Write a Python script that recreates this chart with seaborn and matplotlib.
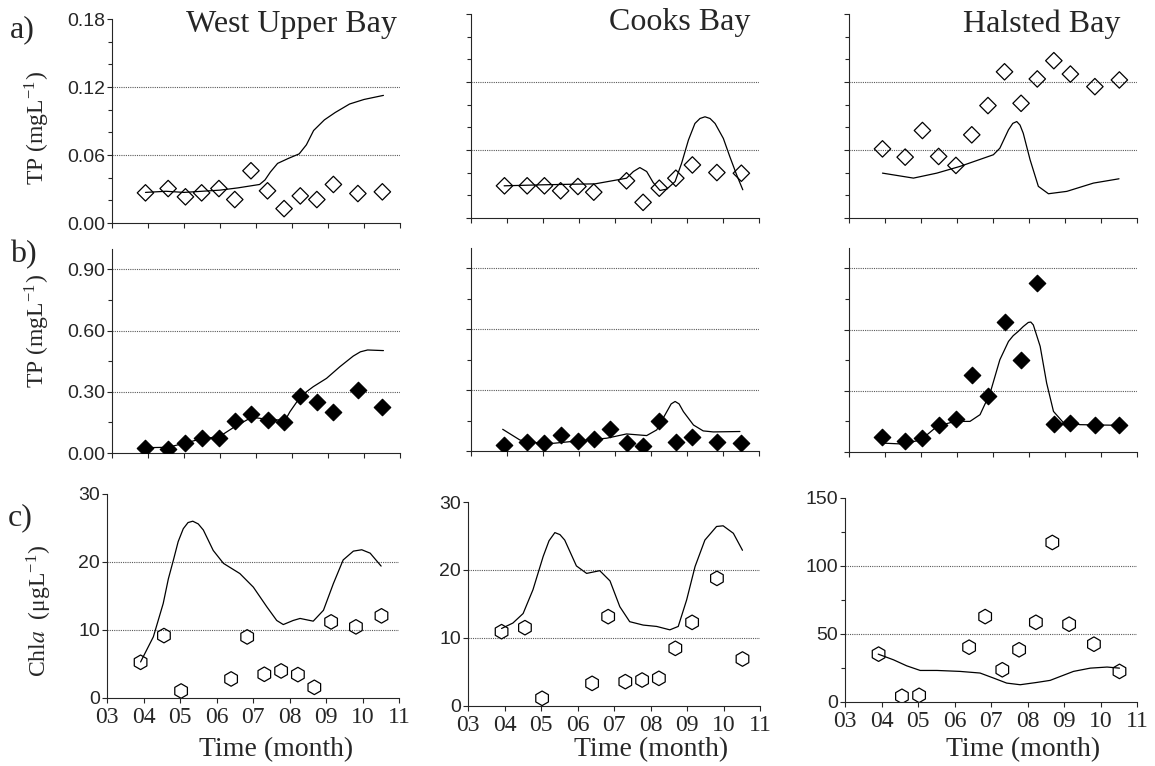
# Lake nutrient / chlorophyll panels, three bays, observed points vs model line
import numpy as np
import pandas as pd
import seaborn as sns
import matplotlib.pyplot as plt
from matplotlib.ticker import MultipleLocator

# ---------------- data ----------------
bays = ['West Upper Bay', 'Cooks Bay', 'Halsted Bay']
month_ticks = [3, 4, 5, 6, 7, 8, 9, 10, 11]
month_labels = ['03', '04', '05', '06', '07', '08', '09', '10', '11']

# sampling dates (month as decimal)
month_tp = [3.93, 4.56, 5.04, 5.49, 5.97, 6.41, 6.86, 7.32, 7.78, 8.23, 8.69, 9.15, 9.83, 10.51]
month_tp_cooks = [3.93, 4.56, 5.04, 5.49, 5.97, 6.41, 7.32, 7.78, 8.23, 8.69, 9.15, 9.83, 10.51]
month_chla = [3.92, 4.56, 5.03, 6.40, 6.84, 7.31, 7.77, 8.23, 8.68, 9.14, 9.82, 10.52]

# row a) observed TP (open diamonds)
tp_west = [0.0266, 0.0304, 0.0231, 0.0266, 0.0304, 0.0207, 0.0461, 0.0284, 0.0127, 0.0239, 0.0207, 0.034, 0.026, 0.0275]
tp_cooks = [0.0284, 0.0284, 0.0284, 0.024, 0.0278, 0.0228, 0.0328, 0.0138, 0.0263, 0.0351, 0.0468, 0.0401, 0.0395]
tp_halsted = [0.061, 0.0537, 0.0772, 0.0543, 0.0464, 0.0734, 0.0992, 0.129, 0.1012, 0.1227, 0.1388, 0.127, 0.1159, 0.1218]

# row a) model lines
line_a_west_x = [3.93, 4.5, 5.0, 5.5, 6.0, 6.5, 6.9, 7.1, 7.25, 7.4, 7.6, 7.9, 8.2, 8.4, 8.6, 8.9, 9.2, 9.6, 10.0, 10.54]
line_a_west_y = [0.027, 0.028, 0.027, 0.028, 0.029, 0.031, 0.033, 0.034, 0.038, 0.045, 0.0526, 0.057, 0.061, 0.069, 0.0816, 0.091, 0.0975, 0.105, 0.109, 0.1126]
line_a_cooks_x = [3.92, 5.0, 6.0, 6.44, 7.32, 7.51, 7.69, 7.88, 8.06, 8.25, 8.44, 8.67, 8.85, 9.04, 9.22, 9.36, 9.5, 9.64, 9.78, 10.01, 10.19, 10.38, 10.55]
line_a_cooks_y = [0.0284, 0.0293, 0.0299, 0.0301, 0.0351, 0.041, 0.0445, 0.041, 0.0313, 0.0243, 0.0255, 0.0322, 0.0483, 0.0688, 0.0834, 0.0878, 0.0893, 0.0878, 0.0834, 0.0702, 0.0541, 0.038, 0.0249]
line_a_halsted_x = [3.93, 4.79, 5.44, 6.08, 7.01, 7.19, 7.43, 7.55, 7.66, 7.75, 7.84, 8.03, 8.26, 8.54, 9.05, 9.79, 10.5]
line_a_halsted_y = [0.0396, 0.0352, 0.0396, 0.0455, 0.0558, 0.0616, 0.0778, 0.0835, 0.0851, 0.082, 0.0748, 0.0514, 0.0279, 0.0214, 0.0235, 0.0308, 0.0346]

# row b) observed TP (filled diamonds)
tp2_west = [0.026, 0.021, 0.051, 0.075, 0.074, 0.157, 0.189, 0.164, 0.152, 0.280, 0.248, 0.202, 0.311, 0.226]
tp2_cooks = [0.030, 0.043, 0.038, 0.079, 0.049, 0.058, 0.109, 0.038, 0.025, 0.150, 0.043, 0.071, 0.043, 0.038]
tp2_halsted = [0.073, 0.052, 0.069, 0.134, 0.163, 0.378, 0.276, 0.635, 0.452, 0.827, 0.137, 0.142, 0.134, 0.131]

# row b) model lines
line_b_west_x = [3.92, 4.56, 5.06, 5.49, 5.98, 6.42, 6.88, 7.34, 7.81, 7.94, 8.25, 8.59, 8.96, 9.33, 9.7, 9.9, 10.1, 10.54]
line_b_west_y = [0.026, 0.028, 0.05, 0.07, 0.08, 0.13, 0.175, 0.165, 0.16, 0.2016, 0.280, 0.325, 0.366, 0.423, 0.475, 0.496, 0.505, 0.502]
line_b_cooks_x = [3.88, 4.36, 4.82, 5.29, 5.75, 6.21, 6.77, 7.32, 7.88, 8.16, 8.3, 8.44, 8.56, 8.67, 8.78, 8.9, 9.18, 9.45, 9.73, 10.47]
line_b_cooks_y = [0.107, 0.054, 0.041, 0.038, 0.046, 0.054, 0.063, 0.084, 0.076, 0.104, 0.150, 0.194, 0.232, 0.244, 0.232, 0.194, 0.128, 0.099, 0.094, 0.096]
line_b_halsted_x = [3.88, 4.51, 5.0, 5.45, 5.94, 6.36, 6.64, 6.92, 7.19, 7.43, 7.56, 7.70, 7.84, 7.98, 8.05, 8.12, 8.31, 8.49, 8.68, 8.95, 9.42, 10.46]
line_b_halsted_y = [0.044, 0.039, 0.06, 0.126, 0.15, 0.15, 0.183, 0.289, 0.452, 0.542, 0.57, 0.591, 0.615, 0.635, 0.637, 0.623, 0.518, 0.338, 0.199, 0.145, 0.134, 0.131]

# row c) observed Chla (open hexagons)
chla_west = [5.25, 9.18, 1.03, 2.8, 8.98, 3.49, 3.98, 3.44, 1.57, 11.19, 10.46, 12.08]
chla_cooks = [10.93, 11.52, 1.13, 3.33, 13.14, 3.58, 3.82, 4.07, 8.48, 12.3, 18.77, 6.91]
chla_halsted = [35.2, 4.2, 4.9, 40.3, 62.8, 23.7, 38.4, 58.6, 117.3, 57.2, 42.5, 22.5]

# row c) model lines
line_c_west_x = [3.92, 4.27, 4.54, 4.68, 4.82, 4.95, 5.09, 5.22, 5.35, 5.5, 5.64, 5.91, 6.19, 6.64, 7.01, 7.38, 7.65, 7.83, 8.10, 8.29, 8.65, 8.93, 9.2, 9.47, 9.75, 9.98, 10.21, 10.51]
line_c_west_y = [5.3, 9.0, 13.9, 17.5, 20.3, 23.0, 24.9, 25.8, 26.0, 25.6, 24.7, 21.7, 19.8, 18.3, 16.3, 13.4, 11.4, 10.8, 11.4, 11.7, 11.3, 12.9, 16.8, 20.3, 21.6, 21.8, 21.3, 19.4]
line_c_cooks_x = [3.92, 4.23, 4.51, 4.78, 5.06, 5.22, 5.38, 5.52, 5.65, 5.97, 6.25, 6.61, 6.89, 7.16, 7.43, 7.8, 8.17, 8.53, 8.76, 8.99, 9.22, 9.49, 9.81, 9.99, 10.27, 10.52]
line_c_cooks_y = [11.4, 12.2, 13.6, 17.1, 22.0, 24.3, 25.5, 25.2, 24.4, 20.6, 19.5, 19.9, 18.4, 14.6, 12.4, 11.9, 11.7, 11.2, 11.7, 15.6, 20.5, 24.4, 26.4, 26.5, 25.4, 22.9]
line_c_halsted_x = [3.91, 4.33, 4.69, 5.06, 5.52, 6.15, 6.70, 7.07, 7.43, 7.80, 8.26, 8.62, 8.90, 9.26, 9.72, 10.18, 10.52]
line_c_halsted_y = [35.2, 31.0, 26.6, 23.2, 23.2, 22.5, 21.3, 17.6, 13.9, 12.7, 14.4, 15.9, 18.8, 22.5, 24.9, 25.7, 24.9]

# axis scales per row
yticks_a = [0.0, 0.06, 0.12, 0.18]
ylabels_a = ['0.00', '0.06', '0.12', '0.18']
yticks_b = [0.0, 0.30, 0.60, 0.90]
ylabels_b = ['0.00', '0.30', '0.60', '0.90']
yticks_c = [0, 10, 20, 30]
yticks_c_halsted = [0, 50, 100, 150]
grid_a = [0.06, 0.12]
grid_b = [0.30, 0.60, 0.90]
grid_c = [10, 20]
grid_c_halsted = [50, 100]

# ---------------- style ----------------
sns.set_style('ticks')
plt.rcParams['font.family'] = ['Liberation Serif', 'DejaVu Serif']
plt.rcParams['mathtext.fontset'] = 'stix'
plt.rcParams['axes.linewidth'] = 0.8
plt.rcParams['xtick.major.width'] = 0.8
plt.rcParams['ytick.major.width'] = 0.8
plt.rcParams['ytick.minor.width'] = 0.8
plt.rcParams['xtick.major.size'] = 3.5
plt.rcParams['ytick.major.size'] = 3.5
plt.rcParams['ytick.minor.size'] = 3.0
plt.rcParams['xtick.direction'] = 'out'
plt.rcParams['ytick.direction'] = 'out'

W, H = 1155, 766
fig = plt.figure(figsize=(W / 100, H / 100), dpi=100)

# axes boxes in pixels: (left, right, top, bottom)
boxes = [
    [(112, 400, 19, 223), (471, 759, 14, 218), (849, 1137, 14, 218)],
    [(112, 400, 249, 453), (471, 759, 248, 451), (849, 1137, 248, 452)],
    [(107, 399, 494, 698), (468, 760, 502, 706), (845, 1137, 498, 702)],
]


def make_ax(box):
    x0, x1, y0, y1 = box
    return fig.add_axes([x0 / W, 1 - y1 / H, (x1 - x0) / W, (y1 - y0) / H])


def draw_panel(ax, px, py, lx, ly, marker, filled, size, grid):
    for g in grid:
        ax.axhline(g, color='0.35', lw=0.8, ls=(0, (1, 1)), zorder=1)
    sns.lineplot(x=lx, y=ly, ax=ax, color='black', lw=0.9, estimator=None, sort=False, zorder=2)
    sns.scatterplot(x=px, y=py, ax=ax, marker=marker, s=size, color='black',
                    edgecolor='black', linewidth=0.9, zorder=3)
    if not filled:
        ax.collections[-1].set_facecolor('none')
    ax.set_xlim(3, 11)
    ax.set_xticks(month_ticks)
    sns.despine(ax=ax)
    ax.set_xlabel('')
    ax.set_ylabel('')


panel_data = [
    [(month_tp, tp_west, line_a_west_x, line_a_west_y),
     (month_tp_cooks, tp_cooks, line_a_cooks_x, line_a_cooks_y),
     (month_tp, tp_halsted, line_a_halsted_x, line_a_halsted_y)],
    [(month_tp, tp2_west, line_b_west_x, line_b_west_y),
     (month_tp, tp2_cooks, line_b_cooks_x, line_b_cooks_y),
     (month_tp, tp2_halsted, line_b_halsted_x, line_b_halsted_y)],
    [(month_chla, chla_west, line_c_west_x, line_c_west_y),
     (month_chla, chla_cooks, line_c_cooks_x, line_c_cooks_y),
     (month_chla, chla_halsted, line_c_halsted_x, line_c_halsted_y)],
]

ylab_tp = 'TP (mgL$^{\\mathregular{-1}}$)'
ylab_chla = 'Chl$\\mathit{a}$  (μgL$^{\\mathregular{-1}}$)'

for r in range(3):
    for c in range(3):
        ax = make_ax(boxes[r][c])
        px, py, lx, ly = panel_data[r][c]
        if r == 0:
            draw_panel(ax, px, py, lx, ly, 'D', False, 70, grid_a)
            ax.set_ylim(0, 0.18)
            ax.set_yticks(yticks_a)
            ax.yaxis.set_minor_locator(MultipleLocator(0.02))
            ticklabels = ylabels_a
        elif r == 1:
            draw_panel(ax, px, py, lx, ly, 'D', True, 70, grid_b)
            ax.set_ylim(0, 1.0)
            ax.set_yticks(yticks_b)
            ax.yaxis.set_minor_locator(MultipleLocator(0.15))
            ticklabels = ylabels_b
        else:
            if c == 2:
                draw_panel(ax, px, py, lx, ly, 'h', False, 110, grid_c_halsted)
                ax.set_ylim(0, 150)
                ax.set_yticks(yticks_c_halsted)
                ax.yaxis.set_minor_locator(MultipleLocator(25))
                ticklabels = [str(v) for v in yticks_c_halsted]
            else:
                draw_panel(ax, px, py, lx, ly, 'h', False, 110, grid_c)
                ax.set_ylim(0, 30)
                ax.set_yticks(yticks_c)
                ticklabels = [str(v) for v in yticks_c]

        # y tick labels (sans) only on left column for rows a/b
        if r == 2 or c == 0:
            ax.set_yticklabels(ticklabels, fontsize=14, family=['Liberation Sans', 'DejaVu Sans'])
        else:
            ax.tick_params(axis='y', labelleft=False)
        ax.tick_params(axis='y', pad=1.5)

        # x tick labels (serif) only on bottom row
        if r == 2:
            ax.set_xticklabels(month_labels, fontsize=17)
            ax.tick_params(axis='x', pad=3)
            x0, x1, y0, y1 = boxes[r][c]
            lab_x = [276, 651, 1023][c]
            ax.set_xlabel('Time (month)', fontsize=20, va='center')
            ax.xaxis.set_label_coords((lab_x - x0) / (x1 - x0), (y1 - 750) / (y1 - y0))
        else:
            ax.tick_params(axis='x', labelbottom=False)

        # y axis titles on the left column
        if c == 0:
            x0, x1, y0, y1 = boxes[r][c]
            lab = [(37, 128), (37, 331), (39, 611)][r]
            ax.set_ylabel(ylab_tp if r < 2 else ylab_chla, fontsize=17, va='center')
            ax.yaxis.set_label_coords((lab[0] - x0) / (x1 - x0), (y1 - lab[1]) / (y1 - y0))

# bay names
for name, (tx, ty) in zip(bays, [(397, 32), (750, 30), (1120, 32)]):
    fig.text(tx / W, 1 - ty / H, name, ha='right', va='baseline', fontsize=23)

# row letters
for letter, (tx, ty) in zip(['a)', 'b)', 'c)'], [(10, 37), (10, 262), (8, 525)]):
    fig.text(tx / W, 1 - ty / H, letter, ha='left', va='baseline', fontsize=23)

fig.savefig('out.png', dpi=100)
